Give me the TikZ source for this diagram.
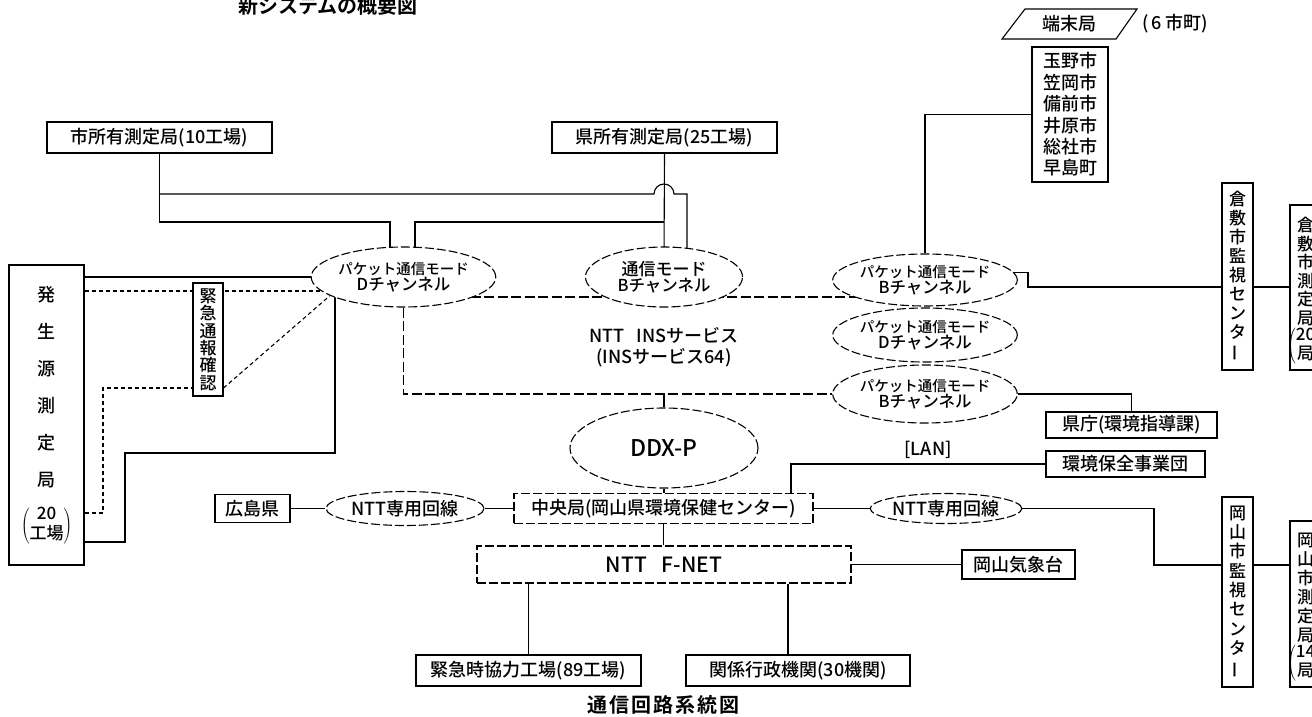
\documentclass[tikz,border=0pt]{standalone}
\usepackage{fontspec}
\usepackage{graphicx}
\setmainfont{Noto Sans CJK JP}[UprightFont={* Medium}]
\newfontfamily\ttlfont{Noto Sans CJK JP Bold}
\usetikzlibrary{shapes.geometric,calc}
\pgfdeclarelayer{bg}
\pgfsetlayers{bg,main}
\newcommand{\fsz}[2]{\fontsize{#1}{#2}\selectfont}
\newcommand{\vbar}{\rotatebox[origin=c]{90}{ー}}
\tikzset{
  lnk/.style={line width=1.1pt},
  dlnk/.style={line width=1.1pt, dash pattern=on 10pt off 3.5pt},
  sdlnk/.style={line width=1.1pt, dash pattern=on 4pt off 3pt},
  bx/.style={draw, rectangle, line width=1.1pt, fill=white, inner sep=0pt, align=center, font=\fsz{18}{21}},
  dbx/.style={bx, dash pattern=on 9pt off 3pt},
  ell/.style={draw, ellipse, line width=1.1pt, fill=white, inner sep=0pt, align=center, dash pattern=on 9pt off 3pt},
  lbl/.style={inner sep=0pt, align=center, font=\fsz{18}{21}},
}
\begin{document}
\begin{tikzpicture}[x=1pt,y=-1pt]
\useasboundingbox (0,0) rectangle (1312,717);
\clip (0,0) rectangle (1312,717);
% titles
\node[lbl, font=\ttlfont\fsz{20}{22}] (title) at (328,6) {新システムの概要図};
\node[lbl, font=\ttlfont\fsz{20}{22}] (title2) at (663,705) {通\kern2pt 信\kern2pt 回\kern2pt 路\kern2pt 系\kern2pt 統\kern2pt 図};
% top boxes
\node[bx, minimum width=225, minimum height=31] (cityS) at (159.5,137.5) {市所有測定局(10工場)};
\node[bx, minimum width=225, minimum height=31] (prefS) at (664.5,137.5) {県所有測定局(25工場)};
% terminal
\draw[lnk] (1002,39) -- (1025,9) -- (1137,9) -- (1116,39) -- cycle;
\node[lbl] (tanmatsu) at (1069,24) {端末局};
\node[lbl] (rokushi) at (1175,24) {(\,6\,市町)};
\node[bx, minimum width=76, minimum height=135, font=\fsz{18}{21.4}] (towns) at (1070,114.5) {玉野市\\笠岡市\\備前市\\井原市\\総社市\\早島町};
% ellipses
\node[ell, minimum width=157, minimum height=60] (ellD) at (403.5,277) {\fsz{14.5}{19}パケット通信モード\\\fsz{16.5}{19}Dチャンネル};
\node[ell, minimum width=157, minimum height=60] (ellB) at (664,277) {\fsz{17}{19}通信モード\\\fsz{16.5}{19}Bチャンネル};
\node[ell, minimum width=158, minimum height=52] (R1) at (925,280) {\fsz{14.5}{19}パケット通信モード\\\fsz{16.5}{19}Bチャンネル};
\node[ell, minimum width=158, minimum height=54] (R2) at (925,335) {\fsz{14.5}{19}パケット通信モード\\\fsz{16.5}{19}Dチャンネル};
\node[ell, minimum width=158, minimum height=58] (R3) at (925,394) {\fsz{14.5}{19}パケット通信モード\\\fsz{16.5}{19}Bチャンネル};
\node[lbl] (ins) at (664,347) {NTT\hspace{12pt}INSサービス\\(INSサービス64)};
\node[ell, minimum width=188, minimum height=80, font=\fsz{23}{25}] (ddx) at (664,448) {DDX-P};
% right boxes
\node[bx, minimum width=31, minimum height=187, font=\fsz{17}{18.9}] (kuraK) at (1237.5,276.5) {倉\\敷\\市\\監\\視\\セ\\ン\\タ\\\vbar};
\node[bx, minimum width=31, minimum height=165] (kuraM) at (1305.5,287.5) {};
\node[lbl, font=\fsz{17}{18.6}] (kuraMt) at (1305.5,271.5) {倉\\敷\\市\\測\\定\\局};
\node[lbl, font=\fsz{17}{18.6}] (kuraMp) at (1305.5,346.5) {$\left(\begin{tabular}{@{}c@{}}20\\局\end{tabular}\right)$};
\node[bx, minimum width=171, minimum height=26] (kencho) at (1131.5,425) {県庁(環境指導課)};
\node[lbl] (lan) at (928,450) {[LAN]};
\node[bx, minimum width=159, minimum height=26] (kankyo) at (1125.5,464) {環境保全事業団};
\node[bx, minimum width=31, minimum height=190, font=\fsz{17}{19.3}] (okaK) at (1237.5,592) {岡\\山\\市\\監\\視\\セ\\ン\\タ\\\vbar};
\node[bx, minimum width=31, minimum height=166] (okaM) at (1305.5,604) {};
\node[lbl, font=\fsz{17}{19}] (okaMt) at (1305.5,587.5) {岡\\山\\市\\測\\定\\局};
\node[lbl, font=\fsz{17}{19}] (okaMp) at (1305.5,663.5) {$\left(\begin{tabular}{@{}c@{}}14\\局\end{tabular}\right)$};
% central row
\node[bx, minimum width=75, minimum height=28] (hiro) at (252.5,508.5) {広島県};
\node[ell, minimum width=158, minimum height=34, font=\fsz{18}{20}] (nttL) at (405,508.5) {NTT専用回線};
\node[dbx, minimum width=299, minimum height=30] (chuo) at (663.5,508.5) {中央局(岡山県環境保健センター)};
\node[ell, minimum width=150, minimum height=30, font=\fsz{18}{20}] (nttR) at (946,508.5) {NTT専用回線};
\node[dbx, minimum width=374, minimum height=37, font=\fsz{21}{23}] (fnet) at (664,564.5) {NTT\hspace{15pt}F-NET};
\node[bx, minimum width=113, minimum height=29] (kisho) at (1018.5,564.5) {岡山気象台};
\node[bx, minimum width=225, minimum height=31] (kyoryoku) at (528.5,670.5) {緊急時協力工場(89工場)};
\node[bx, minimum width=224, minimum height=31] (kankei) at (798,670.5) {関係行政機関(30機関)};
% left
\node[bx, minimum width=75, minimum height=300] (hassei) at (46.5,415) {};
\node[lbl, font=\fsz{18}{37}] (hasseiT) at (46.5,387.5) {発\\生\\源\\測\\定\\局};
\node[lbl, font=\fsz{17}{19}] (hasseiP) at (46.5,526) {$\left(\begin{tabular}{@{}c@{}}20\\工場\end{tabular}\right)$};
\node[bx, minimum width=30, minimum height=113, font=\fsz{17}{17.4}] (tsuho) at (208,339.5) {緊\\急\\通\\報\\確\\認};
% connectors
\begin{pgfonlayer}{bg}
\fill[white] (0,0) rectangle (1312,717);
\draw[lnk] (cityS.south) |- (390,222) -- (390,260);
\draw[lnk] (cityS.south |- 0,194) -- (654,194) arc[start angle=180,end angle=360,radius=10] -- (687,194) -- (687,260);
\draw[lnk] (prefS.south) -- (664,260);
\draw[lnk] (664,222) -- (415,222) -- (415,260);
\draw[lnk] (hassei.east |- ellD.west) -- (ellD.west);
\draw[sdlnk] (hassei.east |- 0,291) -- (334,291);
\draw[sdlnk] (hassei.east |- 0,513) -| (103,388) -- (tsuho.west |- 0,388);
\draw[sdlnk] (tsuho.east |- 0,388) -- (333,293);
\draw[lnk] (hassei.east |- 0,542) -| (125,453) -| (335,293);
\draw[dlnk] (403,297) -- (925,297);
\draw[dlnk] (ellD.south) |- (R3.west);
\draw[lnk] (ddx.north |- R3.west) -- (ddx.north);
\draw[lnk] (ddx.south) -- (ddx.south |- chuo.north);
\draw[lnk] (chuo.south) -- (chuo.south |- fnet.north);
\draw[lnk] (hiro.east) -- (nttL.west);
\draw[lnk] (nttL.east) -- (chuo.west);
\draw[lnk] (chuo.east) -- (nttR.west);
\draw[lnk] (nttR.east) -| (1154,565) -- (okaK.west |- 0,565);
\draw[lnk] (okaK.east |- 0,565) -- (okaM.west |- 0,565);
\draw[lnk] (fnet.east) -- (kisho.west);
\draw[lnk] (fnet.south -| kyoryoku.north) -- (kyoryoku.north);
\draw[lnk] (fnet.south -| 788,0) -- (kankei.north -| 788,0);
\draw[lnk] (kankyo.west) -| (chuo.north -| 791,0);
\draw[lnk] (R3.east) -| (kencho.north);
\draw[lnk] (R1.5) -| (1028,287) -- (kuraK.west |- 0,287);
\draw[lnk] (kuraK.east |- 0,287) -- (kuraM.west |- 0,287);
\draw[lnk] (towns.west) -| (R1.north);
\end{pgfonlayer}
\end{tikzpicture}
\end{document}
